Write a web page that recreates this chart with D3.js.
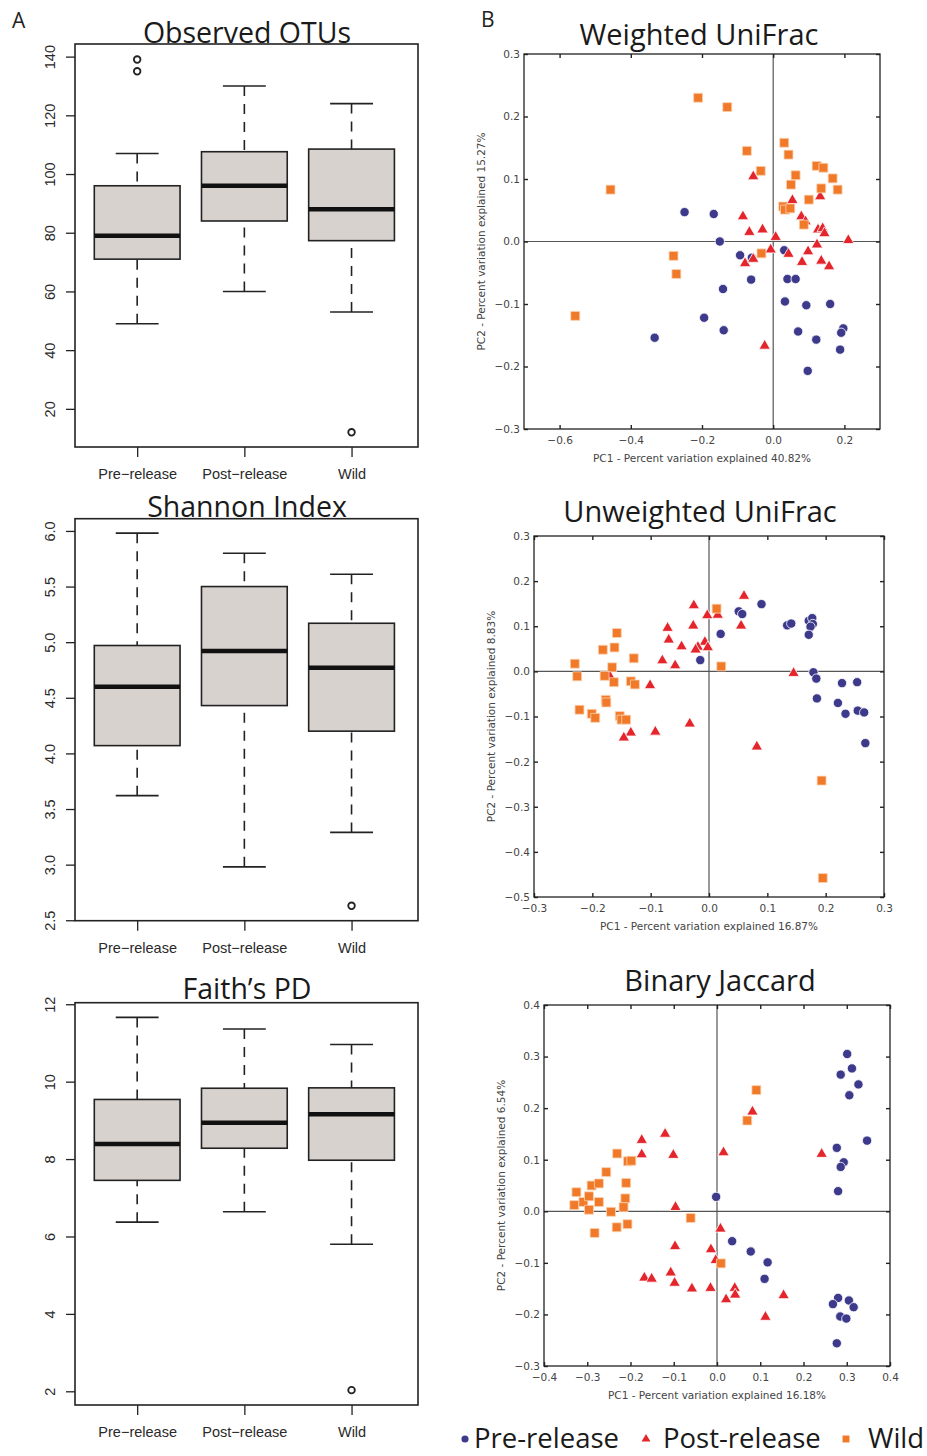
<!DOCTYPE html>
<html>
<head>
<meta charset="utf-8">
<script src="https://cdn.jsdelivr.net/npm/d3@7"></script>
<style>
body { margin: 0; background: #fff; }
</style>
</head>
<body>
<svg id="fig" width="927" height="1456"></svg>
<script>
// ---- alpha diversity box plots (panel A) ----
var categories = ["Pre−release", "Post−release", "Wild"];

// [lower whisker, Q1, median, Q3, upper whisker]
var otusStats = [[49, 71, 79, 96, 107], [60, 84, 96, 107.6, 130], [53, 77.3, 88, 108.5, 124]];
var otusOutliers = [[135, 139], [], [12]];
var otusTicks = [20, 40, 60, 80, 100, 120, 140];

var shannonStats = [[3.62, 4.07, 4.60, 4.97, 5.98], [2.98, 4.43, 4.92, 5.50, 5.80], [3.29, 4.20, 4.77, 5.17, 5.61]];
var shannonOutliers = [[], [], [2.63]];
var shannonTicks = [2.5, 3, 3.5, 4, 4.5, 5, 5.5, 6];

var faithStats = [[6.37, 7.45, 8.39, 9.54, 11.66], [6.64, 8.28, 8.94, 9.83, 11.36], [5.80, 7.97, 9.16, 9.84, 10.96]];
var faithOutliers = [[], [], [2.03]];
var faithTicks = [2, 4, 6, 8, 10, 12];

// ---- PCoA coordinates [PC1, PC2] (panel B) ----
var wPre = [[-0.249,0.047],[-0.167,0.044],[-0.150,0.000],[-0.093,-0.022],[-0.060,-0.026],[0.031,-0.014],[-0.141,-0.076],[-0.062,-0.061],[0.040,-0.060],[0.063,-0.060],[0.033,-0.096],[0.093,-0.102],[0.160,-0.100],[-0.194,-0.122],[-0.139,-0.142],[-0.333,-0.154],[0.070,-0.144],[0.121,-0.157],[0.197,-0.139],[0.191,-0.146],[0.188,-0.173],[0.097,-0.207]];
var wPost = [[-0.056,0.104],[0.054,0.066],[0.132,0.072],[-0.085,0.040],[0.079,0.040],[0.091,0.032],[-0.067,0.015],[-0.030,0.019],[0.007,0.007],[0.126,0.019],[0.139,0.021],[0.144,0.013],[0.211,0.002],[-0.007,-0.013],[0.043,-0.020],[0.123,-0.005],[0.098,-0.016],[0.081,-0.033],[0.135,-0.031],[0.157,-0.040],[-0.079,-0.035],[-0.056,-0.028],[-0.024,-0.167]];
var wWild = [[-0.211,0.230],[-0.129,0.215],[-0.457,0.083],[-0.074,0.145],[-0.035,0.113],[0.031,0.158],[0.043,0.139],[0.063,0.106],[0.050,0.091],[0.122,0.121],[0.141,0.118],[0.167,0.101],[0.135,0.085],[0.181,0.083],[0.100,0.067],[0.028,0.056],[0.033,0.051],[0.048,0.053],[0.086,0.027],[-0.033,-0.019],[-0.280,-0.023],[-0.272,-0.052],[-0.556,-0.119]];

var uPre = [[-0.015,0.025],[0.020,0.083],[0.051,0.133],[0.057,0.127],[0.090,0.149],[0.134,0.102],[0.141,0.106],[0.171,0.112],[0.177,0.118],[0.178,0.105],[0.174,0.099],[0.171,0.081],[0.179,-0.002],[0.184,-0.016],[0.185,-0.060],[0.221,-0.070],[0.228,-0.026],[0.234,-0.094],[0.254,-0.024],[0.255,-0.087],[0.266,-0.091],[0.268,-0.159]];
var uPost = [[-0.026,0.146],[-0.027,0.101],[-0.071,0.096],[-0.069,0.070],[-0.047,0.055],[-0.003,0.124],[0.015,0.125],[0.060,0.167],[0.055,0.101],[-0.007,0.065],[-0.019,0.054],[-0.023,0.048],[-0.002,0.053],[-0.080,0.024],[-0.058,0.013],[-0.170,-0.011],[-0.101,-0.031],[0.145,-0.004],[-0.033,-0.116],[-0.092,-0.134],[-0.134,-0.136],[-0.146,-0.147],[0.082,-0.167]];
var uWild = [[-0.230,0.017],[-0.226,-0.011],[-0.158,0.085],[-0.182,0.048],[-0.162,0.053],[-0.129,0.029],[-0.166,0.009],[-0.179,-0.010],[-0.163,-0.024],[-0.134,-0.022],[-0.127,-0.029],[-0.177,-0.063],[-0.176,-0.069],[-0.222,-0.085],[-0.201,-0.094],[-0.195,-0.103],[-0.153,-0.099],[-0.150,-0.107],[-0.142,-0.107],[0.013,0.139],[0.021,0.011],[0.193,-0.242],[0.195,-0.458]];

var jPre = [[0.301,0.305],[0.286,0.265],[0.312,0.277],[0.327,0.246],[0.306,0.225],[0.347,0.137],[0.277,0.123],[0.293,0.095],[0.286,0.086],[0.280,0.039],[-0.002,0.028],[0.035,-0.058],[0.078,-0.078],[0.117,-0.099],[0.110,-0.131],[0.280,-0.168],[0.305,-0.173],[0.268,-0.180],[0.316,-0.186],[0.285,-0.204],[0.299,-0.208],[0.277,-0.256]];
var jPost = [[-0.174,0.138],[-0.174,0.110],[-0.120,0.150],[-0.101,0.109],[0.015,0.114],[0.082,0.193],[0.242,0.111],[-0.096,0.008],[0.008,-0.034],[-0.097,-0.068],[-0.014,-0.074],[-0.003,-0.095],[-0.107,-0.119],[-0.168,-0.129],[-0.151,-0.131],[-0.098,-0.139],[-0.058,-0.150],[-0.015,-0.149],[0.021,-0.171],[0.041,-0.149],[0.042,-0.162],[0.154,-0.163],[0.112,-0.205]];
var jWild = [[-0.330,0.012],[-0.325,0.037],[-0.309,0.018],[-0.296,0.029],[-0.290,0.050],[-0.273,0.054],[-0.273,0.018],[-0.296,0.003],[-0.256,0.076],[-0.231,0.112],[-0.245,-0.001],[-0.210,0.055],[-0.212,0.025],[-0.216,0.008],[-0.206,0.097],[-0.198,0.098],[0.070,0.176],[0.091,0.235],[-0.283,-0.042],[-0.232,-0.031],[-0.207,-0.025],[-0.061,-0.013],[0.009,-0.101]];

var wTicksX = [-0.6, -0.4, -0.2, 0, 0.2];
var wTicksY = [-0.3, -0.2, -0.1, 0, 0.1, 0.2, 0.3];
var uTicksX = [-0.3, -0.2, -0.1, 0, 0.1, 0.2, 0.3];
var uTicksY = [-0.5, -0.4, -0.3, -0.2, -0.1, 0, 0.1, 0.2, 0.3];
var jTicksX = [-0.4, -0.3, -0.2, -0.1, 0, 0.1, 0.2, 0.3, 0.4];
var jTicksY = [-0.3, -0.2, -0.1, 0, 0.1, 0.2, 0.3, 0.4];

var groups = ["Pre-release", "Post-release", "Wild"];

// styles
var groupColors = ["#3d3a8c", "#e4252b", "#f07a2a"];
var groupStrokes = ["#ffffff", "#ffffff", "#fbd3b3"];
var groupSymbols = [d3.symbolCircle, d3.symbolTriangle, d3.symbolSquare];
var groupSizes = [68, 56, 80];
var titleFont = "'Open Sans', sans-serif";

var svg = d3.select("#fig");
svg.append("rect").attr("width", 927).attr("height", 1456).attr("fill", "#fff");

// panel letters
svg.append("text").attr("x", 12).attr("y", 28).text("A")
    .attr("font-family", titleFont).attr("font-size", 21).attr("fill", "#222");
svg.append("text").attr("x", 481).attr("y", 27).text("B")
    .attr("font-family", titleFont).attr("font-size", 21).attr("fill", "#222");

function drawBox(p) {
    var x = d3.scaleLinear().domain([0.42, 3.62]).range([75, 418]);
    var y = d3.scaleLinear().domain(p.yDomain).range([p.bottom, p.top]);
    var g = svg.append("g");

    // y axis (R style, rotated labels)
    var ya = g.append("g").attr("transform", "translate(75,0)")
        .call(d3.axisLeft(y).tickValues(p.ticks).tickSize(9).tickFormat(p.fmt));
    ya.select(".domain").remove();
    ya.selectAll("line").attr("stroke", "#222").attr("stroke-width", 1.3);
    ya.selectAll("text")
        .attr("x", null).attr("dy", null)
        .attr("transform", "translate(-20,0) rotate(-90)")
        .attr("text-anchor", "middle")
        .attr("font-family", "'Liberation Sans', Arial, sans-serif")
        .attr("font-size", 14.5).attr("fill", "#2a2a2a");

    // x axis
    var xa = g.append("g").attr("transform", "translate(0," + p.bottom + ")")
        .call(d3.axisBottom(x).tickValues([1, 2, 3]).tickSize(10)
            .tickFormat(function (d) { return categories[d - 1]; }));
    xa.select(".domain").remove();
    xa.selectAll("line").attr("stroke", "#222").attr("stroke-width", 1.3);
    xa.selectAll("text").attr("y", 32).attr("dy", null)
        .attr("font-family", "'Liberation Sans', Arial, sans-serif")
        .attr("font-size", 14.5).attr("fill", "#2a2a2a");

    var box = g.selectAll("g.box").data(p.stats).enter().append("g");

    // whiskers
    box.append("line")
        .attr("x1", function (d, i) { return x(i + 1); })
        .attr("x2", function (d, i) { return x(i + 1); })
        .attr("y1", function (d) { return y(d[0]); })
        .attr("y2", function (d) { return y(d[1]); })
        .attr("stroke", "#222").attr("stroke-width", 1.6).attr("stroke-dasharray", "10,8");
    box.append("line")
        .attr("x1", function (d, i) { return x(i + 1); })
        .attr("x2", function (d, i) { return x(i + 1); })
        .attr("y1", function (d) { return y(d[4]); })
        .attr("y2", function (d) { return y(d[3]); })
        .attr("stroke", "#222").attr("stroke-width", 1.6).attr("stroke-dasharray", "10,8");
    // caps
    [0, 4].forEach(function (k) {
        box.append("line")
            .attr("x1", function (d, i) { return x(i + 0.8); })
            .attr("x2", function (d, i) { return x(i + 1.2); })
            .attr("y1", function (d) { return y(d[k]); })
            .attr("y2", function (d) { return y(d[k]); })
            .attr("stroke", "#222").attr("stroke-width", 1.6);
    });
    // boxes
    box.append("rect")
        .attr("x", function (d, i) { return x(i + 0.6); })
        .attr("width", function (d, i) { return x(i + 1.4) - x(i + 0.6); })
        .attr("y", function (d) { return y(d[3]); })
        .attr("height", function (d) { return y(d[1]) - y(d[3]); })
        .attr("fill", "#d8d2ce").attr("stroke", "#222").attr("stroke-width", 1.6);
    // medians
    box.append("line")
        .attr("x1", function (d, i) { return x(i + 0.6); })
        .attr("x2", function (d, i) { return x(i + 1.4); })
        .attr("y1", function (d) { return y(d[2]); })
        .attr("y2", function (d) { return y(d[2]); })
        .attr("stroke", "#111").attr("stroke-width", 4.5);

    // outliers
    p.outliers.forEach(function (arr, i) {
        g.selectAll(null).data(arr).enter().append("circle")
            .attr("cx", x(i + 1))
            .attr("cy", function (d) { return y(d); })
            .attr("r", 3.3)
            .attr("fill", "#fff").attr("stroke", "#222").attr("stroke-width", 1.8);
    });

    // frame
    g.append("rect").attr("x", 75).attr("y", p.top)
        .attr("width", 343).attr("height", p.bottom - p.top)
        .attr("fill", "none").attr("stroke", "#222").attr("stroke-width", 1.6);

    g.append("text").attr("x", 247).attr("y", p.titleY).attr("text-anchor", "middle")
        .attr("font-family", titleFont).attr("font-size", 28.5).attr("fill", "#1a1a1a")
        .text(p.title);
}

drawBox({ title: "Observed OTUs", titleY: 42.5, top: 44, bottom: 447, yDomain: [7.0, 144.3],
    ticks: otusTicks, fmt: d3.format("d"), stats: otusStats, outliers: otusOutliers });
drawBox({ title: "Shannon Index", titleY: 517, top: 518.7, bottom: 920.7, yDomain: [2.496, 6.11],
    ticks: shannonTicks, fmt: d3.format(".1f"), stats: shannonStats, outliers: shannonOutliers });
drawBox({ title: "Faith’s PD", titleY: 999, top: 1002.7, bottom: 1405, yDomain: [1.646, 12.04],
    ticks: faithTicks, fmt: d3.format("d"), stats: faithStats, outliers: faithOutliers });

function drawPcoa(p) {
    var x = d3.scaleLinear().domain(p.xDomain).range([p.left, p.right]);
    var y = d3.scaleLinear().domain(p.yDomain).range([p.bottom, p.top]);
    var g = svg.append("g");
    var fmt = d3.format(".1f");

    // zero cross lines
    g.append("line").attr("x1", x(0)).attr("x2", x(0)).attr("y1", p.top).attr("y2", p.bottom)
        .attr("stroke", "#555").attr("stroke-width", 1.2);
    g.append("line").attr("x1", p.left).attr("x2", p.right).attr("y1", y(0)).attr("y2", y(0))
        .attr("stroke", "#555").attr("stroke-width", 1.2);

    // points
    p.series.forEach(function (s, i) {
        g.selectAll(null).data(s).enter().append("path")
            .attr("d", d3.symbol().type(groupSymbols[i]).size(groupSizes[i]))
            .attr("transform", function (d) { return "translate(" + x(d[0]) + "," + y(d[1]) + ")"; })
            .attr("fill", groupColors[i]).attr("stroke", groupStrokes[i]).attr("stroke-width", 0.8);
    });

    function style(a) {
        a.select(".domain").remove();
        a.selectAll("line").attr("stroke", "#222").attr("stroke-width", 1.4);
        a.selectAll("text").attr("font-family", "'DejaVu Sans', sans-serif")
            .attr("font-size", 10.5).attr("fill", "#444");
    }
    style(g.append("g").attr("transform", "translate(0," + p.bottom + ")")
        .call(d3.axisBottom(x).tickValues(p.xTicks).tickSize(-4).tickPadding(8).tickFormat(fmt)));
    style(g.append("g").attr("transform", "translate(0," + p.top + ")")
        .call(d3.axisTop(x).tickValues(p.xTicks).tickSize(-4).tickFormat("")));
    style(g.append("g").attr("transform", "translate(" + p.left + ",0)")
        .call(d3.axisLeft(y).tickValues(p.yTicks).tickSize(-4).tickPadding(4).tickFormat(fmt)));
    style(g.append("g").attr("transform", "translate(" + p.right + ",0)")
        .call(d3.axisRight(y).tickValues(p.yTicks).tickSize(-4).tickFormat("")));

    g.append("rect").attr("x", p.left).attr("y", p.top)
        .attr("width", p.right - p.left).attr("height", p.bottom - p.top)
        .attr("fill", "none").attr("stroke", "#222").attr("stroke-width", 1.3);

    g.append("text").attr("x", (p.left + p.right) / 2).attr("y", p.bottom + 33)
        .attr("text-anchor", "middle").attr("font-family", "'DejaVu Sans', sans-serif")
        .attr("font-size", 10.5).attr("fill", "#444").text(p.xLabel);
    g.append("text")
        .attr("transform", "translate(" + p.yLabelX + "," + (p.top + p.bottom) / 2 + ") rotate(-90)")
        .attr("text-anchor", "middle").attr("font-family", "'DejaVu Sans', sans-serif")
        .attr("font-size", 10.5).attr("fill", "#444").text(p.yLabel);

    g.append("text").attr("x", p.titleX).attr("y", p.titleY).attr("text-anchor", "middle")
        .attr("font-family", titleFont).attr("font-size", 29).attr("fill", "#1a1a1a")
        .text(p.title);
}

drawPcoa({ title: "Weighted UniFrac", titleX: 699, titleY: 45,
    left: 524, right: 880, top: 54, bottom: 429,
    xDomain: [-0.7, 0.3], yDomain: [-0.3, 0.3], xTicks: wTicksX, yTicks: wTicksY,
    xLabel: "PC1 - Percent variation explained 40.82%", yLabel: "PC2 - Percent variation explained 15.27%",
    yLabelX: 485, series: [wPre, wPost, wWild] });
drawPcoa({ title: "Unweighted UniFrac", titleX: 700, titleY: 522,
    left: 534, right: 884, top: 536, bottom: 897,
    xDomain: [-0.3, 0.3], yDomain: [-0.5, 0.3], xTicks: uTicksX, yTicks: uTicksY,
    xLabel: "PC1 - Percent variation explained 16.87%", yLabel: "PC2 - Percent variation explained 8.83%",
    yLabelX: 495, series: [uPre, uPost, uWild] });
drawPcoa({ title: "Binary Jaccard", titleX: 720, titleY: 991,
    left: 544, right: 890, top: 1005, bottom: 1366,
    xDomain: [-0.4, 0.4], yDomain: [-0.3, 0.4], xTicks: jTicksX, yTicks: jTicksY,
    xLabel: "PC1 - Percent variation explained 16.18%", yLabel: "PC2 - Percent variation explained 6.54%",
    yLabelX: 505, series: [jPre, jPost, jWild] });

// legend
var legendX = [465, 646, 846];
var leg = svg.selectAll("g.leg").data(groups).enter().append("g")
    .attr("transform", function (d, i) { return "translate(" + legendX[i] + ",1439)"; });
leg.append("path")
    .attr("d", function (d, i) { return d3.symbol().type(groupSymbols[i]).size([40, 34, 48][i])(); })
    .attr("fill", function (d, i) { return groupColors[i]; });
leg.append("text").attr("x", function (d, i) { return [9, 17, 22][i]; }).attr("y", 9)
    .attr("font-family", titleFont).attr("font-size", 27.5).attr("fill", "#1a1a1a")
    .text(function (d) { return d; });
</script>
</body>
</html>
